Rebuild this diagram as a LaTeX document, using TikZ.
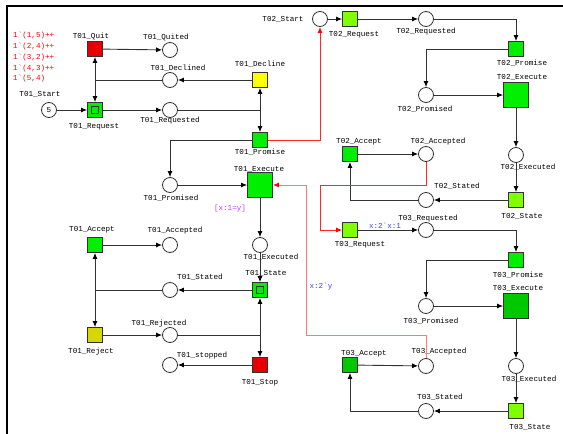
\documentclass[tikz,border=0pt]{standalone}
\usepackage{fontspec}
\setmonofont{Liberation Mono}
\usetikzlibrary{arrows.meta}
\definecolor{CpnGreen}{RGB}{0, 238, 0}
\definecolor{CpnLime}{RGB}{128, 255, 0}
\definecolor{CpnDeepGreen}{RGB}{0, 200, 0}
\definecolor{CpnRed}{RGB}{232, 0, 0}
\definecolor{CpnYellow}{RGB}{255, 255, 0}
\definecolor{CpnOlive}{RGB}{214, 214, 0}
\definecolor{ArcGray}{RGB}{50, 50, 50}
\definecolor{ArcRed}{RGB}{255, 40, 40}
\definecolor{ArcPink}{RGB}{255, 120, 120}
\definecolor{GuardViolet}{RGB}{190, 60, 255}
\definecolor{InscBlue}{RGB}{60, 60, 255}
\newcommand{\cpnfont}{\ttfamily\fontsize{7.6}{10.8}\selectfont}

\begin{document}
\begin{tikzpicture}[
    x=1pt,
    y=-1pt,
    place/.style={
        circle,
        draw=ArcGray,
        fill=white,
        line width=0.8pt,
        minimum size=15pt,
        inner sep=0pt,
        font=\cpnfont
    },
    trans/.style={
        rectangle,
        draw=ArcGray,
        line width=0.8pt,
        minimum size=15pt,
        inner sep=0pt
    },
    bigtrans/.style={
        trans,
        minimum size=25pt
    },
    marker/.style={
        rectangle,
        draw=ArcGray,
        line width=0.8pt,
        minimum size=7pt,
        inner sep=0pt
    },
    netlabel/.style={
        font=\cpnfont,
        text=black,
        inner sep=0pt
    },
    arc/.style={
        draw=ArcGray,
        line width=0.9pt,
        -{Latex[length=6pt,width=5pt,color=black]}
    },
    redarc/.style={
        arc,
        draw=ArcRed,
        -{Latex[length=6pt,width=5pt,color=red]}
    }
]
\useasboundingbox (0,0) rectangle (563,434);
% -------------------------------------------------------------
% FRAME
% -------------------------------------------------------------
\draw[line width=2pt] (563,6) -- (7,6) -- (7,434);
% -------------------------------------------------------------
% T01 : PLACES AND TRANSITIONS
% -------------------------------------------------------------
\node[netlabel, text=red, align=left, anchor=north west] (t1tokens) at (13,32)
{1\textasciigrave(1,5)++\\1\textasciigrave(2,4)++\\1\textasciigrave(3,2)++\\1\textasciigrave(4,3)++\\1\textasciigrave(5,4)};
\node[place] (t1start) at (49,110) {5};
\node[trans, fill=CpnGreen] (t1request) at (95,110) {};
\node[marker] (t1requestmark) at (t1request) {};
\node[trans, fill=CpnRed] (t1quit) at (95,49) {};
\node[place] (t1quited) at (170,50) {};
\node[place] (t1declined) at (170,80) {};
\node[trans, fill=CpnYellow] (t1decline) at (260,80) {};
\node[place] (t1reqd) at (170,110) {};
\node[trans, fill=CpnGreen] (t1promise) at (260,140) {};
\node[place] (t1promised) at (170,185) {};
\node[bigtrans, fill=CpnGreen] (t1exec) at (260,185) {};
\node[place] (t1execd) at (260,245) {};
\node[trans, fill=CpnGreen] (t1state) at (260,290) {};
\node[marker] (t1statemark) at (t1state) {};
\node[place] (t1stated) at (170,290) {};
\node[trans, fill=CpnGreen] (t1accept) at (95,245) {};
\node[place] (t1accd) at (170,245) {};
\node[trans, fill=CpnOlive] (t1reject) at (95,335) {};
\node[place] (t1rejd) at (170,335) {};
\node[trans, fill=CpnRed] (t1stop) at (260,365) {};
\node[place] (t1stopped) at (170,365) {};
% labels
\node[netlabel] (t1startL) at (40,94) {T01\_Start};
\node[netlabel] (t1requestL) at (94,127) {T01\_Request};
\node[netlabel] (t1quitL) at (91,36) {T01\_Quit};
\node[netlabel] (t1quitedL) at (166,37) {T01\_Quited};
\node[netlabel] (t1declinedL) at (178,68) {T01\_Declined};
\node[netlabel] (t1declineL) at (260,64) {T01\_Decline};
\node[netlabel] (t1reqdL) at (170,121) {T01\_Requested};
\node[netlabel] (t1promiseL) at (260,152) {T01\_Promise};
\node[netlabel] (t1execL) at (259,169) {T01\_Execute};
\node[netlabel] (t1promisedL) at (171,198) {T01\_Promised};
\node[netlabel, text=GuardViolet] (t1guard) at (230,209) {[x:1=y]};
\node[netlabel] (t1acceptL) at (92,230) {T01\_Accept};
\node[netlabel] (t1accdL) at (175,231) {T01\_Accepted};
\node[netlabel] (t1execdL) at (271,257) {T01\_Executed};
\node[netlabel] (t1stateL) at (266,273) {T01\_State};
\node[netlabel] (t1statedL) at (200,277) {T01\_Stated};
\node[netlabel] (t1rejdL) at (159,324) {T01\_Rejected};
\node[netlabel] (t1rejectL) at (91,352) {T01\_Reject};
\node[netlabel] (t1stoppedL) at (202,356) {T01\_stopped};
\node[netlabel] (t1stopL) at (260,383) {T01\_Stop};
% -------------------------------------------------------------
% T02 : PLACES AND TRANSITIONS
% -------------------------------------------------------------
\node[place] (t2start) at (320,19) {};
\node[trans, fill=CpnLime] (t2request) at (350,19) {};
\node[place] (t2reqd) at (426,19) {};
\node[trans, fill=CpnGreen] (t2promise) at (516,49) {};
\node[place] (t2promised) at (426,95) {};
\node[bigtrans, fill=CpnGreen] (t2exec) at (516,95) {};
\node[place] (t2execd) at (516,155) {};
\node[trans, fill=CpnLime] (t2state) at (516,200) {};
\node[place] (t2stated) at (426,200) {};
\node[trans, fill=CpnGreen] (t2accept) at (350,154) {};
\node[place] (t2accd) at (426,154) {};
% labels
\node[netlabel] (t2startL) at (283,19) {T02\_Start};
\node[netlabel] (t2requestL) at (354,35) {T02\_Request};
\node[netlabel] (t2reqdL) at (426,32) {T02\_Requested};
\node[netlabel] (t2promiseL) at (522,63) {T02\_Promise};
\node[netlabel] (t2execL) at (522,77) {T02\_Execute};
\node[netlabel] (t2promisedL) at (425,109) {T02\_Promised};
\node[netlabel] (t2acceptL) at (359,142) {T02\_Accept};
\node[netlabel] (t2accdL) at (438,142) {T02\_Accepted};
\node[netlabel] (t2execdL) at (528,167) {T02\_Executed};
\node[netlabel] (t2statedL) at (457,186) {T02\_Stated};
\node[netlabel] (t2stateL) at (522,216) {T02\_State};
% -------------------------------------------------------------
% T03 : PLACES AND TRANSITIONS
% -------------------------------------------------------------
\node[trans, fill=CpnLime] (t3request) at (350,230) {};
\node[place] (t3reqd) at (426,230) {};
\node[trans, fill=CpnGreen] (t3promise) at (516,260) {};
\node[place] (t3promised) at (426,306) {};
\node[bigtrans, fill=CpnDeepGreen] (t3exec) at (516,306) {};
\node[place] (t3execd) at (516,366) {};
\node[trans, fill=CpnLime] (t3state) at (516,411) {};
\node[place] (t3stated) at (426,411) {};
\node[trans, fill=CpnDeepGreen] (t3accept) at (350,365) {};
\node[place] (t3accd) at (426,366) {};
% labels
\node[netlabel] (t3reqdL) at (428,219) {T03\_Requested};
\node[netlabel, text=InscBlue] (t3reqInsc) at (385,226) {x:2\textasciigrave x:1};
\node[netlabel] (t3requestL) at (360,245) {T03\_Request};
\node[netlabel] (t3promiseL) at (518,275) {T03\_Promise};
\node[netlabel] (t3execL) at (518,288) {T03\_Execute};
\node[netlabel] (t3promisedL) at (431,321) {T03\_Promised};
\node[netlabel] (t3acceptL) at (364,354) {T03\_Accept};
\node[netlabel] (t3accdL) at (439,352) {T03\_Accepted};
\node[netlabel] (t3execdL) at (529,379) {T03\_Executed};
\node[netlabel] (t3statedL) at (440,397) {T03\_Stated};
\node[netlabel] (t3stateL) at (530,427) {T03\_State};
\node[netlabel, text=InscBlue] (t1execInsc) at (321,287) {x:2\textasciigrave y};
% -------------------------------------------------------------
% T01 : ARCS
% -------------------------------------------------------------
\draw[arc] (t1start) -- (t1request);
\draw[arc] (t1request) -- (t1reqd);
\draw[arc] (t1quit) -- (t1quited);
\draw[arc] (t1decline) -- (t1declined);
\draw[arc] (t1declined) -| (t1quit);
\draw[arc] (t1declined) -| (t1request);
\draw[arc] (t1reqd) -| (t1decline);
\draw[arc] (t1reqd) -| (t1promise);
\draw[arc] (t1promise) -| (t1promised);
\draw[arc] (t1promised) -- (t1exec);
\draw[arc] (t1exec) -- (t1execd);
\draw[arc] (t1execd) -- (t1state);
\draw[arc] (t1state) -- (t1stated);
\draw[arc] (t1stated) -| (t1accept);
\draw[arc] (t1stated) -| (t1reject);
\draw[arc] (t1accept) -- (t1accd);
\draw[arc] (t1reject) -- (t1rejd);
\draw[arc] (t1rejd) -| (t1state);
\draw[arc] (t1rejd) -| (t1stop);
\draw[arc] (t1stop) -- (t1stopped);
% -------------------------------------------------------------
% T02 : ARCS
% -------------------------------------------------------------
\draw[arc] (t2start) -- (t2request);
\draw[arc] (t2request) -- (t2reqd);
\draw[arc] (t2reqd) -| (t2promise);
\draw[arc] (t2promise) -| (t2promised);
\draw[arc] (t2promised) -- (t2exec);
\draw[arc] (t2exec) -- (t2execd);
\draw[arc] (t2execd) -- (t2state);
\draw[arc] (t2state) -- (t2stated);
\draw[arc] (t2stated) -| (t2accept);
\draw[arc] (t2accept) -- (t2accd);
% -------------------------------------------------------------
% T03 : ARCS
% -------------------------------------------------------------
\draw[arc] (t3request) -- (t3reqd);
\draw[arc] (t3reqd) -| (t3promise);
\draw[arc] (t3promise) -| (t3promised);
\draw[arc] (t3promised) -- (t3exec);
\draw[arc] (t3exec) -- (t3execd);
\draw[arc] (t3execd) -- (t3state);
\draw[arc] (t3state) -- (t3stated);
\draw[arc] (t3stated) -| (t3accept);
\draw[arc] (t3accept) -- (t3accd);
% -------------------------------------------------------------
% LINKS BETWEEN TRANSACTIONS
% -------------------------------------------------------------
\draw[redarc] (t1promise) -| (t2start);
\draw[redarc] (t2accd.south) |- (320,185) |- (t3request.west);
\draw[redarc, draw=ArcPink] (t3accd.north) |- (306,335) |- (t1exec.east);
\end{tikzpicture}
\end{document}
